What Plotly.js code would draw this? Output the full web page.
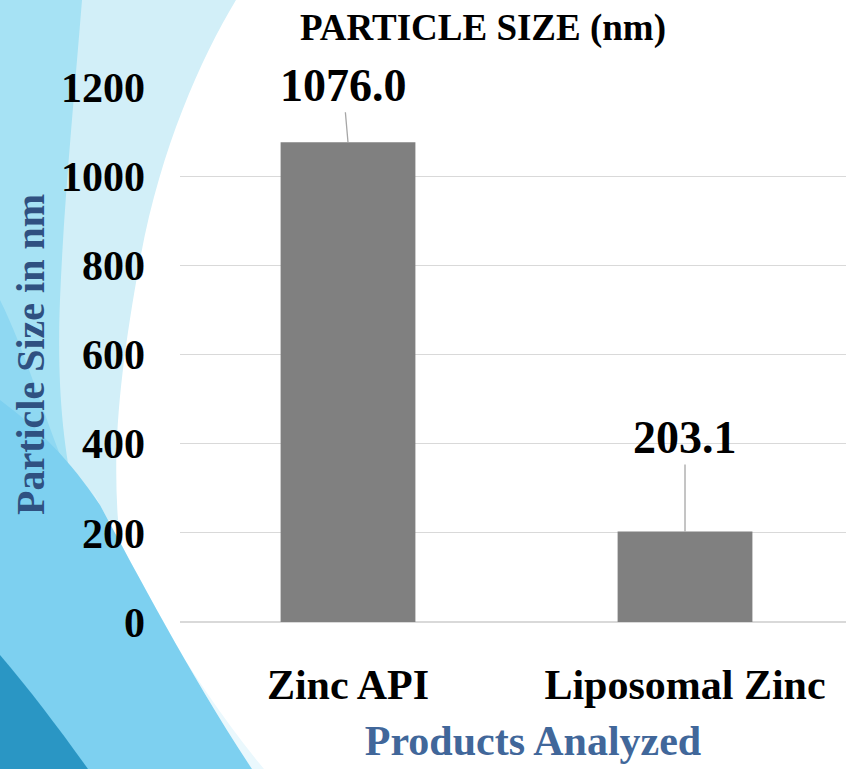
<!DOCTYPE html>
<html>
<head>
<meta charset="utf-8">
<script src="https://cdn.plot.ly/plotly-3.0.1.min.js"></script>
<style>
html,body{margin:0;padding:0;overflow:hidden;background:#ffffff;}
#chart{width:886px;height:769px;}
</style>
</head>
<body>
<div id="chart"></div>
<script>
// ---- data ----
var categories = ["Zinc API", "Liposomal Zinc"];
var particleSize = [1076.0, 203.1];
var valueLabels = ["1076.0", "203.1"];
var yTickValues = [0, 200, 400, 600, 800, 1000, 1200];
var yTickLabels = ["0", "200", "400", "600", "800", "1000", "1200"];

// ---- geometry helpers for decorative background (pixel -> paper) ----
var W = 886, H = 769, ML = 180, MR = 0, MT = 87, MB = 147;
var PW = W - ML - MR, PH = H - MT - MB;
function px(x){ return ((x - ML) / PW).toFixed(4); }
function py(y){ return ((H - MB - y) / PH).toFixed(4); }
function path(cmds){
  return cmds.map(function(c){
    if (c[0] === 'Z') return 'Z';
    var pts = [];
    for (var i = 1; i < c.length; i += 2) pts.push(px(c[i]) + ',' + py(c[i+1]));
    return c[0] + ' ' + pts.join(' ');
  }).join(' ');
}
var bgShapes = [
  {fill:'#d2eff8', d:[['M',0,0],['L',236,0],['C',200,60,160,150,140,260],['C',122,360,112,440,118,520],['L',0,520],['Z']]},
  {fill:'#a6e2f4', d:[['M',0,0],['L',82,0],['C',74,100,64,200,60,300],['C',57,380,62,440,75,500],['L',0,500],['Z']]},
  {fill:'#8fd8f2', d:[['M',0,300],['C',25,350,45,420,70,480],['L',0,500],['Z']]},
  {fill:'#eaf8fd', d:[['M',92,490],['C',128,565,184,672,264,769],['L',252,769],['C',190,675,135,570,100,505],['Z']]},
  {fill:'#7dd0f0', d:[['M',0,400],['C',40,430,70,460,100,505],['C',135,570,190,675,252,769],['L',0,769],['Z']]},
  {fill:'#2a96c4', d:[['M',0,655],['C',30,690,60,730,88,769],['L',0,769],['Z']]}
];
var shapes = bgShapes.map(function(s){
  return {type:'path', xref:'paper', yref:'paper', path:path(s.d),
          fillcolor:s.fill, line:{width:0}, layer:'below'};
});

var trace = {
  type: 'bar',
  x: categories,
  y: particleSize,
  width: 0.4,
  marker: {color: '#808080'},
  hoverinfo: 'x+y'
};

var labelOffsets = [[-5, -57], [0, -94]];
var annotations = categories.map(function(c, i){
  return {
    x: c, y: particleSize[i], xref: 'x', yref: 'y',
    text: valueLabels[i],
    showarrow: true, arrowhead: 0, arrowwidth: 1.3, arrowcolor: '#a6a6a6',
    standoff: 0, startstandoff: 0,
    ax: labelOffsets[i][0], ay: labelOffsets[i][1],
    font: {family: 'Liberation Serif, Times New Roman, serif', size: 46, color: '#000000', weight: 'bold'}
  };
});

var layout = {
  width: W, height: H,
  margin: {l: ML, r: MR, t: MT, b: MB, pad: 0},
  paper_bgcolor: '#ffffff',
  plot_bgcolor: 'rgba(0,0,0,0)',
  font: {family: 'Liberation Serif, Times New Roman, serif', color: '#000000'},
  showlegend: false,
  title: {
    text: '<b>PARTICLE SIZE (nm)</b>',
    font: {size: 37, color: '#000000'},
    x: 483 / W, xref: 'container', xanchor: 'center',
    y: 1 - 27 / H, yref: 'container', yanchor: 'middle'
  },
  xaxis: {
    type: 'category',
    range: [-0.4985, 1.5964],
    showgrid: false, zeroline: false, showline: false,
    ticks: '',
    ticklabelstandoff: 34,
    tickfont: {size: 42, color: '#000000', weight: 'bold'},
    title: {text: '<b>Products Analyzed</b>', font: {size: 42, color: '#41679a'}, standoff: 18},
    fixedrange: true
  },
  yaxis: {
    range: [0, 1200],
    tickvals: yTickValues,
    ticktext: yTickLabels,
    showgrid: true, gridcolor: '#d9d9d9', gridwidth: 1.3,
    zeroline: true, zerolinecolor: '#d9d9d9', zerolinewidth: 1.3,
    showline: false, ticks: '',
    ticklabelstandoff: 34,
    tickfont: {size: 42, color: '#000000', weight: 'bold'},
    title: {text: '<b>Particle Size in nm</b>', font: {size: 40, color: '#2f5181'}, standoff: 4},
    fixedrange: true
  },
  bargap: 0.6,
  shapes: shapes,
  annotations: annotations
};

Plotly.newPlot('chart', [trace], layout, {displayModeBar: false, staticPlot: true});
</script>
</body>
</html>
